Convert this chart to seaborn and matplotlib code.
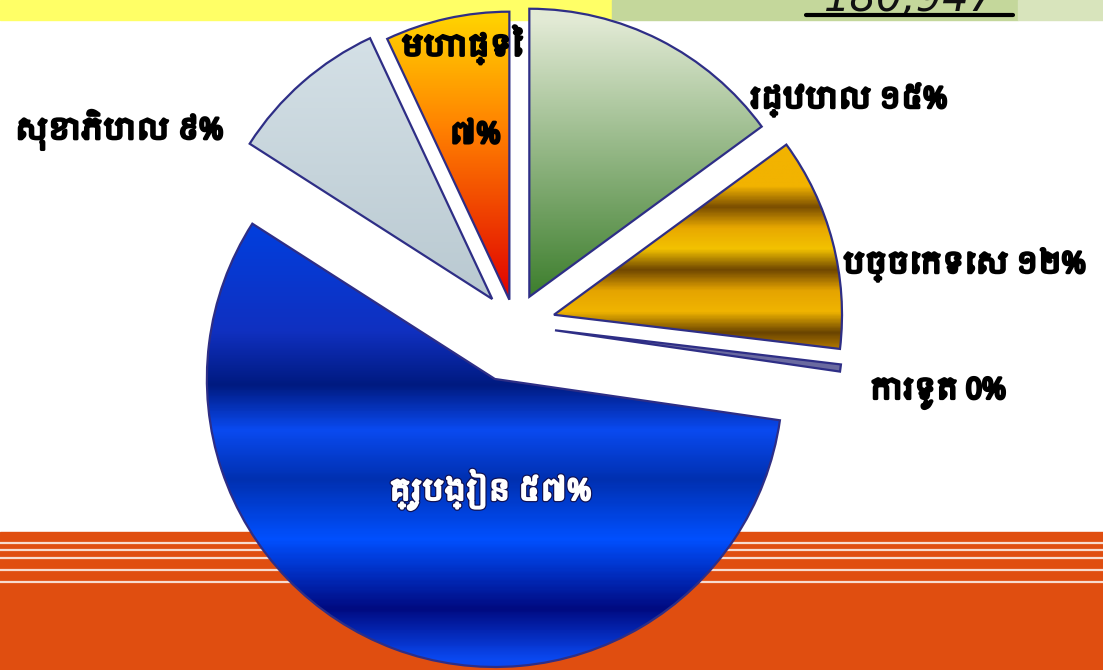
import numpy as np
import matplotlib
matplotlib.use('Agg')
import matplotlib.pyplot as plt
import matplotlib.patheffects as pe
from matplotlib import font_manager
from matplotlib.colors import LinearSegmentedColormap
import seaborn as sns

# data
categories = ['រដ្ឋបាល', 'បច្ចេកទេស', 'ការទូត', 'គ្រូបង្រៀន', 'សុខាភិបាល', 'មហាផ្ទៃ']
shares = [15, 12, 0.4, 57, 9, 7]
share_labels = ['១៥%', '១២%', '0%', '៥៧%', '៩%', '៧%']
total_text = '180,947'

sns.set_theme(style='white')
khmer = sorted({f.name for f in font_manager.fontManager.ttflist if 'Khmer' in f.name})
plt.rcParams['font.family'] = khmer[:1] + ['DejaVu Sans']

W, H = 1103, 670
fig = plt.figure(figsize=(W / 100, H / 100), dpi=100)
ax = fig.add_axes([0, 0, 1, 1])

# background decoration
ax.axhspan(H - 20, H, xmin=0, xmax=612 / W, color='#ffff66', zorder=0)
ax.axhspan(H - 20, H, xmin=612 / W, xmax=1018 / W, color='#c4d79b', zorder=0)
ax.axhspan(H - 20, H, xmin=1018 / W, xmax=1, color='#d8e4bc', zorder=0)
ax.axhspan(0, H - 532, color='#e04e10', zorder=0)
for sy in [543, 550, 558, 570, 582]:
    ax.axhline(H - sy, color='white', lw=1.6, alpha=0.8, zorder=0)
ax.text(910, H - 11, total_text, ha='center', va='baseline', fontsize=30,
        style='italic', color='#111111', family='DejaVu Sans', zorder=1)
ax.plot([806, 1013], [H - 14.5, H - 14.5], color='black', lw=3, zorder=1)

# pie
cx, cy, R = 515, H - 325, 288
explode = [0.11, 0.14, 0.14, 0.2, 0.12, 0.09]
wedges, _ = ax.pie(shares, explode=[e * R for e in explode], startangle=90, counterclock=False,
                   center=(cx, cy), radius=R,
                   colors=['#b9cf98', '#d89a00', '#6a6aa0', '#0a3ad8', '#c8d5dc', '#f06010'],
                   wedgeprops=dict(edgecolor='#2e2e86', linewidth=1.6), frame=True)

def fill_gradient(wedge, stops_y, stops_c):
    bb = wedge.get_path().get_extents(wedge.get_transform())
    x0, y0, x1, y1 = ax.transData.inverted().transform(bb).ravel()
    ys = np.linspace(y0, y1, 300)
    cmap = LinearSegmentedColormap.from_list('g', stops_c)
    t = np.interp(H - ys, stops_y, np.linspace(0, 1, len(stops_c)))
    img = np.tile(t[:, None], (1, 20))
    im = ax.imshow(img, cmap=cmap, vmin=0, vmax=1, origin='lower',
                   extent=(x0, x1, y0, y1), aspect='auto', zorder=wedge.get_zorder())
    im.set_clip_path(wedge)
    wedge.set_zorder(wedge.get_zorder() + 0.1)
    wedge.set_facecolor('none')

fill_gradient(wedges[0], [20, 300], ['#e2ead5', '#3b7d2b'])
fill_gradient(wedges[1], np.linspace(165, 375, 11),
              ['#f2b300', '#f2b300', '#7a4e00', '#e8a800', '#f3c200', '#6f4700',
               '#e5a400', '#f0b400', '#6a4400', '#c88a00', '#8a5a00'])
fill_gradient(wedges[3], [215, 330, 385, 430, 480, 540, 610, 660],
              ['#0040e0', '#1030c0', '#001a80', '#0a4af0', '#0030b0', '#0050ff', '#000a80', '#0a48f0'])
fill_gradient(wedges[4], [40, 310], ['#d4e0e6', '#b8c8d0'])
fill_gradient(wedges[5], [20, 130, 300], ['#ffd000', '#ff8000', '#e00000'])

ax.set_xlim(0, W)
ax.set_ylim(0, H)
ax.set_aspect('auto')
ax.axis('off')

bold_black = [pe.withStroke(linewidth=2.2, foreground='black')]
bold_white = [pe.withStroke(linewidth=3.5, foreground='#101050'),
              pe.withStroke(linewidth=1.8, foreground='white')]
lab = dict(fontsize=21, fontweight='heavy', color='black', zorder=5, path_effects=bold_black)
ax.text(750, H - 100, f'{categories[0]} {share_labels[0]}', ha='left', va='center', **lab)
ax.text(843, H - 265, f'{categories[1]} {share_labels[1]}', ha='left', va='center', **lab)
ax.text(870, H - 393, f'{categories[2]} {share_labels[2]}', ha='left', va='center', **lab)
ax.text(490, H - 490, f'{categories[3]} {share_labels[3]}', ha='center', va='center',
        fontsize=21, fontweight='heavy', color='white', zorder=5, path_effects=bold_white)
ax.text(15, H - 130, f'{categories[4]} {share_labels[4]}', ha='left', va='center', **lab)
ax.text(462, H - 45, categories[5], ha='center', va='center', **lab)
ax.text(475, H - 135, share_labels[5], ha='center', va='center', **lab)

fig.savefig('out.png', dpi=100)
